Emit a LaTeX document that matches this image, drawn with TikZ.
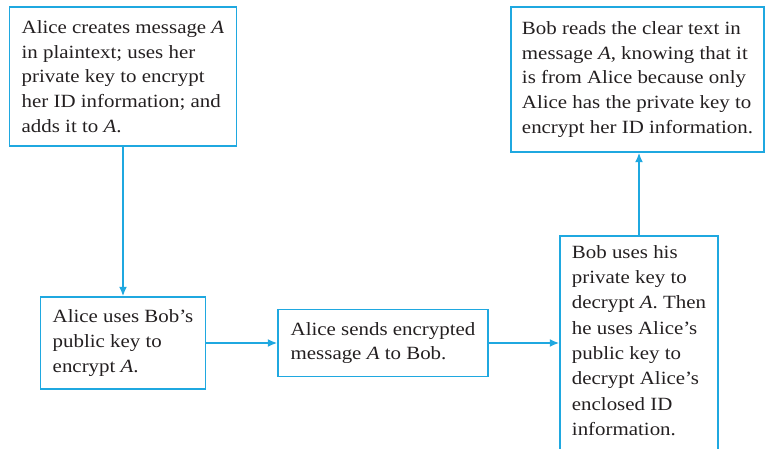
\documentclass[tikz,border=0pt]{standalone}
\usepackage{fontspec}
\setmainfont[FakeStretch=1.12]{Liberation Serif}
\usepackage{tikz}
\usetikzlibrary{arrows.meta,positioning}
\definecolor{lineblue}{HTML}{1FA8E0}
\definecolor{ink}{HTML}{231F20}

\begin{document}
\begin{tikzpicture}[x=0.75pt,y=-0.75pt,
    msgbox/.style={draw=lineblue,line width=1.2pt,text=ink,align=left,inner xsep=0pt,inner ysep=6pt,font=\fontsize{14}{18.5}\selectfont},
    flow/.style={draw=lineblue,line width=1.2pt,-{Latex[length=7pt,width=6pt]}}]
    \useasboundingbox (0,0) rectangle (765,449);
    \node[msgbox,minimum width=170.25pt,minimum height=104.25pt] (a) at (123,76.5) {Alice creates message \textit{A}\\in plaintext; uses her\\private key to encrypt\\her ID information; and\\adds it to \textit{A}.};
    \node[msgbox,minimum width=123.75pt,minimum height=69pt] (b) at (123,343) {Alice uses Bob's\\public key to\\encrypt \textit{A}.};
    \node[msgbox,minimum width=157.5pt,minimum height=50.25pt] (c) at (383,343) {Alice sends encrypted\\message \textit{A} to Bob.};
    \node[msgbox,minimum width=118.5pt,anchor=north,inner ysep=7pt,text depth=12pt,font=\fontsize{14}{19}\selectfont] (d) at (639,235) {Bob uses his\\private key to\\decrypt \textit{A}. Then\\he uses Alice's\\public key to\\decrypt Alice's\\enclosed ID\\information.};
    \node[msgbox,minimum width=189.75pt,minimum height=108.75pt] (e) at (637.5,79.5) {Bob reads the clear text in\\message \textit{A}, knowing that it\\is from Alice because only\\Alice has the private key to\\encrypt her ID information.};
    \foreach \x/\y in {a/b,b/c} \draw[flow] (\x)--(\y);
    \draw[flow] (c.east) -- (c.east -| d.west);
    \draw[flow] (d.north) -- (d.north |- e.south);
  \end{tikzpicture}
\end{document}
